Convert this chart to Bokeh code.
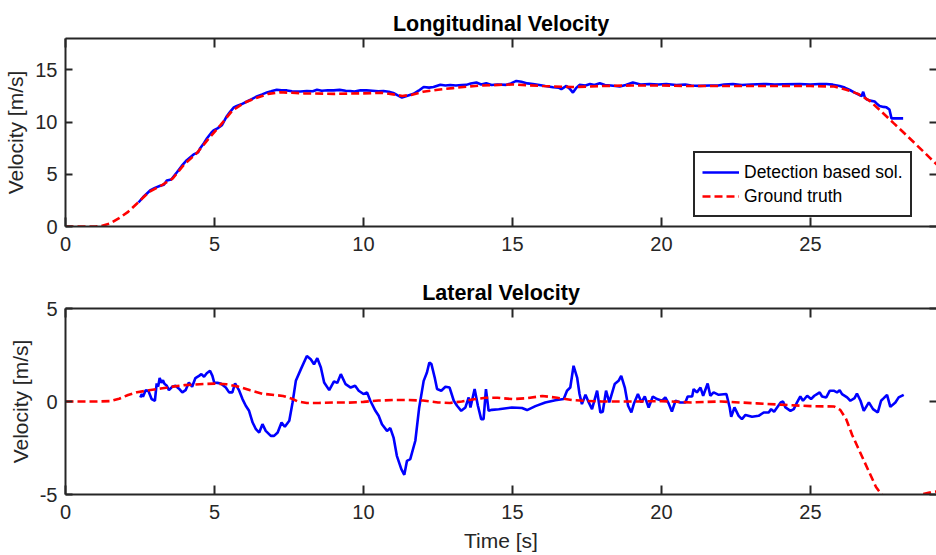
from bokeh.plotting import figure
from bokeh.layouts import column
from bokeh.models import Range1d, LinearAxis, Legend, LegendItem, FixedTicker
from bokeh.embed import file_html
from bokeh.resources import INLINE

# ---------------- data ----------------
x_ticks = [0, 5, 10, 15, 20, 25]
lon_y_ticks = [0, 5, 10, 15]
lat_y_ticks = [-5, 0, 5]

# Longitudinal: ground truth
lon_truth_t = [0, 0.5, 1.0, 1.2, 1.5, 1.8, 2.1, 2.4, 2.8, 3.2, 3.6, 4.0, 4.4, 4.8, 5.2,
               5.6, 6.0, 6.4, 6.8, 7.2, 7.6, 8.0, 9.0, 10.0, 10.6, 11.0, 11.3, 11.6, 12.0,
               12.5, 13.0, 13.5, 14.0, 15.0, 16.0, 17.0, 18.0, 19.0, 20.0, 21.0, 22.0, 23.0,
               24.0, 25.0, 25.8, 26.2, 26.6, 27.0, 27.4, 27.8, 28.2, 28.6, 29.0, 29.4]
lon_truth_v = [0, 0, 0, 0.05, 0.3, 0.8, 1.4, 2.2, 3.3, 3.9, 4.6, 6.0, 7.0, 8.4, 9.7,
               11.1, 11.85, 12.3, 12.7, 12.85, 12.8, 12.75, 12.7, 12.75, 12.8, 12.65, 12.5, 12.6, 12.9,
               13.1, 13.25, 13.4, 13.5, 13.6, 13.45, 13.35, 13.45, 13.5, 13.5, 13.45, 13.45, 13.45,
               13.45, 13.45, 13.4, 13.1, 12.7, 12.0, 10.95, 9.87, 8.8, 7.7, 6.6, 5.5]

# Longitudinal: detection based solution
lon_det_t = [2.45, 2.6, 2.84, 3.0, 3.18, 3.3, 3.4, 3.55, 3.74, 3.9, 4.07, 4.3, 4.45, 4.52, 4.65,
             4.75, 4.9, 4.97, 5.1, 5.25, 5.4, 5.53, 5.65, 5.75, 5.9, 6.09, 6.25, 6.42, 6.6, 6.76,
             6.9, 7.09, 7.25, 7.43, 7.6, 7.88, 8.1, 8.3, 8.44, 8.6, 8.8, 9.0, 9.2, 9.4, 9.55,
             9.7, 9.9, 10.1, 10.3, 10.5, 10.67, 10.85, 11.0, 11.15, 11.29, 11.45, 11.68, 11.85, 12.02, 12.2,
             12.35, 12.58, 12.75, 12.91, 13.1, 13.3, 13.45, 13.6, 13.79, 13.95, 14.12, 14.3, 14.5, 14.79, 14.95,
             15.13, 15.3, 15.5, 15.69, 15.9, 16.1, 16.36, 16.55, 16.64, 16.72, 16.81, 16.92, 17.03, 17.15, 17.25,
             17.45, 17.6, 17.75, 17.93, 18.1, 18.3, 18.6, 18.8, 19.04, 19.3, 19.6, 19.9, 20.16, 20.5, 20.8,
             21.0, 21.28, 21.6, 21.9, 22.1, 22.4, 22.7, 23.0, 23.52, 23.8, 24.1, 24.64, 25.0, 25.3, 25.53,
             25.75, 25.98, 26.15, 26.32, 26.5, 26.65, 26.72, 26.77, 26.82, 26.88, 27.0, 27.16, 27.25, 27.32, 27.45,
             27.55, 27.65, 27.72, 28.11]
lon_det_v = [2.3, 2.8, 3.45, 3.7, 3.9, 4.0, 4.4, 4.5, 5.2, 5.8, 6.35, 6.9, 7.1, 7.5, 8.0,
             8.45, 9.0, 9.2, 9.4, 9.7, 10.5, 11.0, 11.4, 11.55, 11.7, 11.97, 12.2, 12.45, 12.65, 12.84,
             12.95, 13.1, 13.05, 13.03, 12.95, 12.93, 12.98, 12.95, 13.1, 13.0, 13.05, 13.03, 13.08, 13.0, 12.97,
             12.92, 13.05, 13.03, 13.0, 12.95, 12.97, 12.9, 12.78, 12.55, 12.35, 12.5, 12.7, 13.0, 13.36, 13.3,
             13.36, 13.58, 13.5, 13.55, 13.5, 13.55, 13.56, 13.7, 13.78, 13.6, 13.72, 13.55, 13.6, 13.56, 13.7,
             13.94, 13.85, 13.7, 13.65, 13.55, 13.45, 13.33, 13.3, 13.14, 13.3, 13.46, 13.2, 12.82, 13.3, 13.56,
             13.5, 13.65, 13.55, 13.72, 13.55, 13.5, 13.4, 13.55, 13.78, 13.6, 13.65, 13.6, 13.65, 13.55, 13.6,
             13.5, 13.46, 13.5, 13.5, 13.6, 13.65, 13.55, 13.6, 13.65, 13.6, 13.62, 13.65, 13.6, 13.65, 13.65,
             13.58, 13.46, 13.3, 13.07, 12.8, 12.59, 12.5, 12.9, 12.4, 12.18, 12.05, 11.96, 11.7, 11.54, 11.45,
             11.41, 11.2, 10.35, 10.35]

# Lateral: ground truth
lat_truth_t = [0, 0.5, 1.0, 1.5, 1.8, 2.1, 2.4, 2.8, 3.2, 3.6, 4.0, 4.5, 5.0, 5.4, 5.8,
               6.2, 6.6, 7.0, 7.3, 7.6, 7.8, 8.1, 8.5, 9.0, 9.5, 10.0, 10.5, 11.0, 11.5, 12.0,
               12.5, 12.9, 13.3, 13.7, 14.1, 14.5, 15.0, 15.5, 16.0, 16.5, 17.0, 17.5, 18.0, 19.0,
               20.0, 21.0, 22.0, 22.6, 23.2, 24.0, 25.0, 25.8, 26.0, 26.2, 26.4, 26.6, 26.8, 27.0,
               27.2, 27.6, 28.0, 28.4, 28.72, 29.0, 29.4]
lat_truth_v = [0, 0, 0, 0.02, 0.15, 0.35, 0.5, 0.6, 0.7, 0.8, 0.88, 0.93, 0.96, 0.93, 0.8,
               0.6, 0.42, 0.35, 0.3, 0.15, 0.0, -0.08, -0.08, -0.05, -0.06, -0.02, 0.05, 0.08, 0.08, 0.05,
               -0.05, -0.08, 0.0, 0.12, 0.2, 0.2, 0.13, 0.18, 0.3, 0.2, 0.08, 0.03, 0.0, 0.0,
               0.02, -0.05, 0.0, -0.05, -0.1, -0.17, -0.25, -0.27, -0.45, -0.95, -1.8, -2.5, -3.2, -3.9,
               -4.6, -5.45, -5.5, -5.25, -5.0, -4.9, -4.8]

# Lateral: detection based solution
lat_det_t = [2.51, 2.56, 2.6, 2.69, 2.78, 2.89, 3.0, 3.06, 3.11, 3.16, 3.22, 3.27, 3.32, 3.4, 3.47,
             3.58, 3.69, 3.8, 3.92, 4.03, 4.14, 4.25, 4.36, 4.48, 4.56, 4.65, 4.74, 4.85, 4.93, 4.99,
             5.1, 5.21, 5.38, 5.49, 5.6, 5.69, 5.83, 5.94, 6.05, 6.16, 6.28, 6.39, 6.5, 6.61, 6.72,
             6.89, 7.0, 7.12, 7.25, 7.36, 7.51, 7.62, 7.73, 7.9, 8.1, 8.23, 8.34, 8.45, 8.57, 8.68,
             8.85, 9.01, 9.12, 9.24, 9.4, 9.57, 9.72, 9.84, 10.0, 10.12, 10.23, 10.4, 10.51, 10.62, 10.79,
             10.9, 11.01, 11.12, 11.27, 11.37, 11.46, 11.57, 11.74, 11.87, 12.02, 12.13, 12.21, 12.28, 12.39, 12.47,
             12.61, 12.75, 12.89, 13.03, 13.14, 13.28, 13.42, 13.53, 13.59, 13.73, 13.84, 13.95, 14.03, 14.11, 14.2,
             14.31, 14.54, 14.98, 15.32, 15.49, 15.77, 16.1, 16.44, 16.72, 16.83, 16.94, 17.05, 17.17, 17.25, 17.33,
             17.45, 17.56, 17.67, 17.84, 17.95, 18.03, 18.14, 18.25, 18.43, 18.56, 18.65, 18.77, 18.88, 18.99, 19.07,
             19.21, 19.33, 19.44, 19.57, 19.71, 19.85, 20.02, 20.13, 20.24, 20.35, 20.47, 20.63, 20.8, 20.88, 21.03,
             21.08, 21.19, 21.31, 21.4, 21.55, 21.64, 21.75, 21.92, 22.18, 22.29, 22.34, 22.45, 22.59, 22.7, 22.82,
             23.04, 23.26, 23.43, 23.6, 23.68, 23.78, 23.88, 24.0, 24.08, 24.16, 24.33, 24.44, 24.55, 24.66, 24.75,
             24.89, 25.02, 25.13, 25.22, 25.31, 25.39, 25.53, 25.65, 25.78, 25.89, 25.98, 26.06, 26.23, 26.34, 26.48,
             26.56, 26.68, 26.79, 26.96, 27.1, 27.26, 27.37, 27.46, 27.57, 27.68, 27.85, 27.96, 28.13]
lat_det_v = [0.22, 0.4, 0.25, 0.6, 0.58, 0.13, 0.04, 0.97, 0.8, 1.26, 1.0, 1.15, 0.95, 0.85, 0.61,
             0.79, 0.85, 0.7, 0.49, 0.61, 1.02, 0.79, 1.26, 1.38, 1.47, 1.33, 1.52, 1.65, 1.38, 1.02,
             1.0, 0.97, 0.75, 0.49, 0.49, 0.97, 0.58, 0.13, -0.23, -0.5, -1.13, -1.49, -1.67, -1.22, -1.58,
             -1.85, -1.85, -1.67, -1.13, -1.36, -1.04, -0.05, 1.11, 1.74, 2.45, 2.27, 2.0, 2.33, 1.83, 1.02,
             0.61, 1.08, 1.0, 1.47, 0.93, 0.75, 0.85, 0.58, 0.4, 0.49, 0.04, -0.5, -0.77, -1.22, -1.58,
             -1.43, -1.94, -2.92, -3.64, -3.94, -3.19, -3.1, -2.11, -0.32, 1.11, 1.56, 2.1, 2.01, 1.29, 0.67,
             0.58, 0.79, 0.75, 0.04, -0.23, -0.5, -0.32, 0.22, -0.32, 0.67, -0.23, -0.95, -0.95, 0.67, -0.5,
             -0.45, -0.42, -0.32, -0.35, -0.46, -0.25, -0.05, 0.07, 0.13, 0.58, 0.75, 1.92, 1.29, 0.4, -0.14,
             0.36, -0.05, -0.41, 0.58, -0.59, -0.55, 0.58, -0.05, 0.94, 1.11, 1.38, 0.75, -0.23, -0.59, -0.14,
             0.4, -0.05, 0.27, -0.32, 0.27, 0.13, 0.04, 0.22, -0.1, -0.54, 0.04, -0.05, -0.05, 0.27, 0.27,
             0.67, 0.49, 0.75, 0.31, 0.97, 0.31, 0.49, 0.36, 0.4, -0.32, -0.82, -0.32, -0.77, -0.95, -0.72,
             -0.82, -0.77, -0.59, -0.59, -0.41, -0.55, -0.32, -0.05, 0.0, -0.32, -0.5, -0.41, -0.05, 0.27, 0.04,
             0.31, 0.13, 0.31, 0.4, 0.49, 0.27, 0.22, 0.58, 0.58, 0.49, 0.61, 0.4, 0.22, 0.04, 0.18,
             0.43, 0.04, -0.5, -0.05, -0.41, -0.59, 0.04, 0.18, 0.36, -0.29, -0.05, 0.22, 0.36]

FONT = "Liberation Sans"
AX = "#262626"
BLUE = "#0000FF"
RED = "#FF0000"
X_END = 29.23


def style_axis(ax, ticks, labels=True, line=True):
    ax.ticker = FixedTicker(ticks=ticks)
    ax.axis_line_color = AX if line else None
    ax.axis_line_width = 2
    ax.major_tick_line_color = AX
    ax.major_tick_line_width = 2
    ax.major_tick_out = 0
    ax.minor_tick_line_color = None
    ax.major_label_text_font = FONT
    ax.major_label_text_color = AX
    ax.axis_label_text_font = FONT
    ax.axis_label_text_font_style = "normal"
    ax.axis_label_text_font_size = "21px"
    ax.axis_label_text_color = AX
    if labels:
        ax.major_label_text_font_size = "20px"
    else:
        ax.major_label_overrides = {t: "" for t in ticks}
        ax.major_label_text_font_size = "1px"
        ax.major_label_standoff = 0


def make_fig(height, y0, y1, yticks, top, bottom, title, title_standoff, xlabel):
    p = figure(width=936, height=height, x_range=Range1d(0, X_END), y_range=Range1d(y0, y1),
               output_backend="svg", toolbar_location=None,
               min_border_left=65, min_border_right=0, min_border_top=top,
               min_border_bottom=bottom)
    p.xgrid.visible = False
    p.ygrid.visible = False
    p.outline_line_color = None
    p.background_fill_color = "white"
    p.border_fill_color = "white"

    p.title.text = title
    p.title.align = "center"
    p.title.text_font = FONT
    p.title.text_font_size = "21.5px"
    p.title.text_font_style = "bold"
    p.title.text_color = "black"
    p.title.standoff = title_standoff

    xa = p.xaxis[0]
    style_axis(xa, x_ticks)
    xa.major_tick_in = 9
    xa.major_label_standoff = 10
    if xlabel:
        xa.axis_label = xlabel
        xa.axis_label_standoff = 7

    ya = p.yaxis[0]
    style_axis(ya, yticks)
    ya.major_tick_in = 7
    ya.major_label_standoff = 8
    ya.axis_label = "Velocity [m/s]"
    ya.axis_label_standoff = 5
    ya.major_label_overrides = {t: str(t) for t in yticks}

    top_ax = LinearAxis()
    style_axis(top_ax, x_ticks, labels=False)
    top_ax.major_tick_in = 9
    p.add_layout(top_ax, "above")

    right_ax = LinearAxis()
    style_axis(right_ax, yticks, labels=False, line=False)
    right_ax.major_tick_in = 7
    p.add_layout(right_ax, "right")
    return p


p1 = make_fig(270, 0, 18, lon_y_ticks, 38, 44, "Longitudinal Velocity", 6, None)
b1 = p1.line(lon_det_t, lon_det_v, line_color=BLUE, line_width=2.6)
r1 = p1.line(lon_truth_t, lon_truth_v, line_color=RED, line_width=2.6, line_dash="8 4")

legend = Legend(items=[LegendItem(label="Detection based sol.", renderers=[b1]),
                       LegendItem(label="Ground truth", renderers=[r1])],
                location=(628, 9))
legend.border_line_color = AX
legend.border_line_alpha = 1.0
legend.border_line_width = 2
legend.background_fill_color = "white"
legend.background_fill_alpha = 1
legend.padding = 7
legend.spacing = 0
legend.margin = 0
legend.label_standoff = 5
legend.glyph_width = 37
legend.glyph_height = 24
legend.label_height = 24
legend.label_text_font = FONT
legend.label_text_font_size = "17.5px"
legend.label_text_color = "black"
p1.add_layout(legend)

p2 = make_fig(285, -5, 5, lat_y_ticks, 38, 61, "Lateral Velocity", 8, "Time [s]")
b2 = p2.line(lat_det_t, lat_det_v, line_color=BLUE, line_width=2.6)
r2 = p2.line(lat_truth_t, lat_truth_v, line_color=RED, line_width=2.6, line_dash="8 4")

page = column(p1, p2, spacing=0)
open("out.html", "w").write(file_html(page, INLINE))
